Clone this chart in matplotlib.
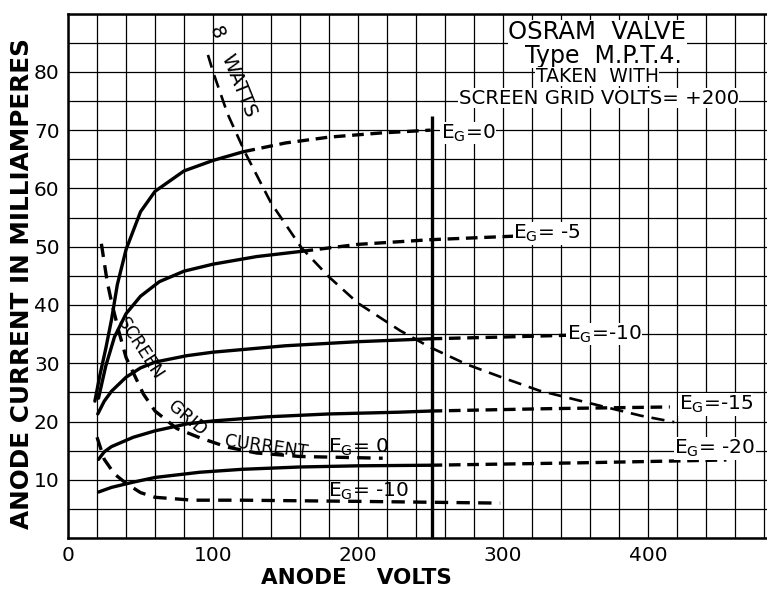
import matplotlib.pyplot as plt

# anode characteristics, solid part (measured) and dashed extension
eg0_v = [18.5, 22, 26, 30, 34, 40, 50, 60, 80, 100, 121]
eg0_i = [23.5, 28, 32.5, 37.5, 43.5, 49.5, 56, 59.5, 63, 64.8, 66.3]
eg0_dv = [121, 150, 180, 215, 250]
eg0_di = [66.3, 67.8, 68.8, 69.5, 70]

eg5_v = [21, 26, 32, 40, 50, 63, 80, 100, 130, 161]
eg5_i = [24, 29.5, 34.5, 38.5, 41.5, 44, 45.8, 47, 48.3, 49.2]
eg5_dv = [161, 200, 250, 307]
eg5_di = [49.2, 50.4, 51.2, 51.8]

eg10_v = [20.5, 25, 30, 40, 50, 60, 82, 100, 150, 200, 250]
eg10_i = [21.3, 23.5, 25.2, 27.6, 29.2, 30.2, 31.3, 31.9, 33, 33.7, 34.2]
eg10_dv = [250, 300, 344]
eg10_di = [34.2, 34.5, 34.8]

eg15_v = [21, 25, 30, 45, 60, 82, 100, 137, 180, 228, 250]
eg15_i = [13.5, 14.8, 15.7, 17.3, 18.4, 19.6, 20.1, 20.8, 21.3, 21.6, 21.8]
eg15_dv = [250, 330, 415]
eg15_di = [21.8, 22.2, 22.5]

eg20_v = [21, 30, 45, 60, 91, 120, 160, 200, 250]
eg20_i = [7.9, 8.7, 9.6, 10.4, 11.3, 11.8, 12.2, 12.4, 12.5]
eg20_dv = [250, 350, 454]
eg20_di = [12.5, 12.9, 13.4]

# screen grid current
sg0_v = [23, 27, 30, 35, 40, 52, 60, 75, 91, 110, 130, 160, 217]
sg0_i = [50.5, 44, 40.5, 35.5, 31, 24.7, 21.8, 18.8, 17.2, 15.6, 14.6, 14.0, 13.7]
sg10_v = [20, 25, 32, 40, 50, 60, 86, 120, 200, 298]
sg10_i = [17.3, 13.5, 11, 9.4, 7.8, 7.0, 6.5, 6.5, 6.3, 6.0]

# 8 watt dissipation line
w8_v = [96.5, 100, 110, 122, 140, 161, 180, 200, 229, 250, 275, 300, 325, 367, 395, 418]
w8_i = [82.9, 80, 72.8, 66.2, 57.5, 49.8, 44.8, 40.3, 35.6, 32.7, 29.8, 27.5, 25.3, 22.7, 21.0, 19.9]

limit_v = 251
limit_top = 72.5

fig = plt.figure(figsize=(7.67, 5.9), dpi=100)
ax = fig.add_axes([0.0887, 0.088, 0.9113, 0.889])
ax.set_xlim(0, 482)
ax.set_ylim(0, 90)

ax.set_xticks([0, 100, 200, 300, 400])
ax.set_xticks(range(0, 481, 20), minor=True)
ax.set_yticks(range(10, 81, 10))
ax.set_yticks(range(0, 91, 5), minor=True)
ax.grid(True, which='both', color='black', lw=0.9)
ax.tick_params(which='both', length=0, labelsize=14.5, pad=6)
for s in ax.spines.values():
    s.set_linewidth(1.8)
ax.spines['right'].set_visible(False)

solid = dict(color='black', lw=2.4, solid_capstyle='round')
dash = dict(color='black', lw=2.4, dashes=(3.5, 2))
for v, i, dv, di in [(eg0_v, eg0_i, eg0_dv, eg0_di), (eg5_v, eg5_i, eg5_dv, eg5_di),
                     (eg10_v, eg10_i, eg10_dv, eg10_di), (eg15_v, eg15_i, eg15_dv, eg15_di),
                     (eg20_v, eg20_i, eg20_dv, eg20_di)]:
    ax.plot(v, i, **solid)
    ax.plot(dv, di, **dash)

ax.plot(sg0_v, sg0_i, color='black', lw=2.4, dashes=(4, 2.5))
ax.plot(sg10_v, sg10_i, color='black', lw=2.4, dashes=(4, 2.5))
ax.plot(w8_v, w8_i, color='black', lw=1.9, dashes=(5, 3))
ax.vlines(limit_v, 0, limit_top, color='black', lw=2.4)

box = dict(facecolor='white', edgecolor='none', pad=0.5)
tk = dict(fontsize=14.5, bbox=box, va='center')
ax.text(257, 69.5, r'E$_\mathregular{G}$=0', **tk)
ax.text(307, 52.3, r'E$_\mathregular{G}$= -5', **tk)
ax.text(344, 35.0, r'E$_\mathregular{G}$=-10', **tk)
ax.text(421, 22.9, r'E$_\mathregular{G}$=-15', **tk)
ax.text(418, 15.4, r'E$_\mathregular{G}$= -20', **tk)
ax.text(179, 15.5, r'E$_\mathregular{G}$= 0', fontsize=14.5, va='center')
ax.text(179, 8.1, r'E$_\mathregular{G}$= -10', fontsize=14.5, va='center')

ax.text(50, 32.5, 'SCREEN', fontsize=12.5, rotation=-57, ha='center', va='center')
ax.text(82, 20.5, 'GRID', fontsize=12.5, rotation=-40, ha='center', va='center')
ax.text(137, 15.7, 'CURRENT', fontsize=12.5, rotation=-8, ha='center', va='center')
ax.text(114, 80.2, '8   WATTS', fontsize=14, rotation=-68, ha='center', va='center')

tb = dict(ha='center', va='center', bbox=dict(facecolor='white', edgecolor='none', pad=0.3))
ax.text(365, 86.8, 'OSRAM  VALVE', fontsize=17.5, **tb)
ax.text(369, 82.8, 'Type  M.P.T.4.', fontsize=17, **tb)
ax.text(365, 79.2, 'TAKEN  WITH', fontsize=13.5, **tb)
ax.text(366, 75.5, 'SCREEN GRID VOLTS= +200', fontsize=14.2, **tb)

fig.text(0.465, 0.02, 'ANODE    VOLTS', fontsize=15.5, fontweight='bold',
         ha='center', va='center')
fig.text(0.0285, 0.52, 'ANODE CURRENT IN MILLIAMPERES', fontsize=17.8, fontweight='bold',
         rotation=90, ha='center', va='center')

fig.savefig('out.png', dpi=100)
